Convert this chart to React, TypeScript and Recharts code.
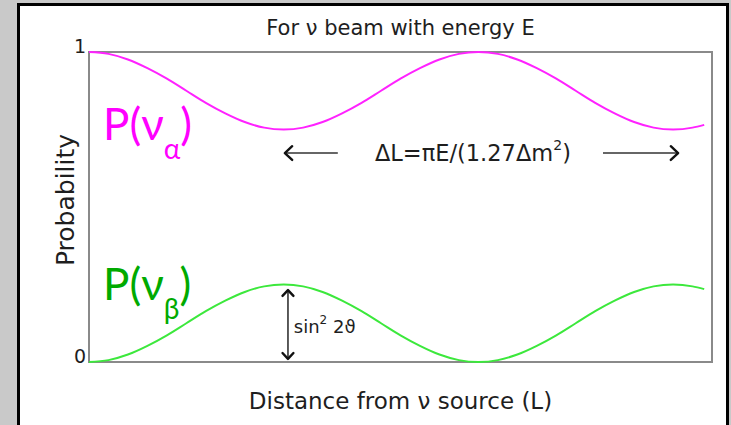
import React from "react";
import {
  LineChart,
  Line,
  XAxis,
  YAxis,
  ReferenceArea,
  ReferenceLine,
  ReferenceDot,
} from "recharts";

// Distance along the beam line (arbitrary units, one oscillation every 10)
const distance = [
  0, 0.5, 1, 1.5, 2, 2.5, 3, 3.5, 4, 4.5, 5, 5.5, 6, 6.5, 7, 7.5, 8, 8.5, 9,
  9.5, 10, 10.5, 11, 11.5, 12, 12.5, 13, 13.5, 14, 14.5, 15, 15.5, 15.8,
];

// Survival probability of the original flavour
const pAlpha = [
  1, 0.994, 0.976, 0.948, 0.914, 0.875, 0.836, 0.802, 0.774, 0.756, 0.75,
  0.756, 0.774, 0.802, 0.836, 0.875, 0.914, 0.948, 0.976, 0.994, 1, 0.994,
  0.976, 0.948, 0.914, 0.875, 0.836, 0.802, 0.774, 0.756, 0.75, 0.756, 0.765,
];

// Appearance probability of the other flavour
const pBeta = [
  0, 0.006, 0.024, 0.052, 0.086, 0.125, 0.164, 0.198, 0.226, 0.244, 0.25,
  0.244, 0.226, 0.198, 0.164, 0.125, 0.086, 0.052, 0.024, 0.006, 0, 0.006,
  0.024, 0.052, 0.086, 0.125, 0.164, 0.198, 0.226, 0.244, 0.25, 0.244, 0.235,
];

const yTicks = [0, 1];

const data = distance.map((d, i) => ({ d, alpha: pAlpha[i], beta: pBeta[i] }));

const TEXT = "#1e1e1e";
const FONT = "'DejaVu Sans', sans-serif";
const LABEL_FONT = "Lato, 'Open Sans', sans-serif";

type Heads = { start?: boolean; end?: boolean };

// Straight line with open chevron heads at either end
const arrowShape = (heads: Heads, size = 10) => (p: any) => {
  const { x1, y1, x2, y2 } = p;
  const ang = Math.atan2(y2 - y1, x2 - x1);
  const head = (x: number, y: number, a: number) => {
    const l1x = x - size * Math.cos(a - 0.75);
    const l1y = y - size * Math.sin(a - 0.75);
    const l2x = x - size * Math.cos(a + 0.75);
    const l2y = y - size * Math.sin(a + 0.75);
    return `M${l1x},${l1y} L${x},${y} L${l2x},${l2y}`;
  };
  return (
    <g>
      <line x1={x1} y1={y1} x2={x2} y2={y2} stroke="#333" strokeWidth={1.6} />
      {heads.end && (
        <path
          d={head(x2, y2, ang)}
          stroke="#111"
          strokeWidth={2.4}
          strokeLinecap="round"
          strokeLinejoin="round"
          fill="none"
        />
      )}
      {heads.start && (
        <path
          d={head(x1, y1, ang + Math.PI)}
          stroke="#111"
          strokeWidth={2.4}
          strokeLinecap="round"
          strokeLinejoin="round"
          fill="none"
        />
      )}
    </g>
  );
};

const flavourLabel = (color: string, sub: string) => (p: any) => (
  <text x={p.cx} y={p.cy} fill={color} fontFamily={LABEL_FONT} fontSize={44}>
    <tspan>P(ν</tspan>
    <tspan dy={19} fontSize={28}>
      {sub}
    </tspan>
    <tspan dy={-19}>)</tspan>
  </text>
);

const centeredText = (value: React.ReactNode, size: number, anchor = "middle") => (p: any) => (
  <text
    x={p.cx}
    y={p.cy}
    fill={TEXT}
    fontFamily={FONT}
    fontSize={size}
    textAnchor={anchor}
    dominantBaseline="central"
  >
    {value}
  </text>
);

const YTick = (p: any) => (
  <text x={86} y={p.y + 1} textAnchor="end" fill={TEXT} fontFamily={FONT} fontSize={19}>
    {p.payload.value}
  </text>
);

export default function App() {
  return (
    <div
      style={{
        position: "absolute",
        left: 0,
        top: 0,
        width: 731,
        height: 425,
        overflow: "hidden",
        background: "#c9c9c9",
      }}
    >
      <div
        style={{
          position: "absolute",
          left: 17,
          top: 3,
          width: 712,
          height: 440,
          boxSizing: "border-box",
          border: "3px solid #000",
          background: "#fff",
        }}
      />
      <div
        style={{
          position: "absolute",
          left: 89,
          width: 623,
          top: 16,
          textAlign: "center",
          fontFamily: FONT,
          fontSize: 21,
          color: TEXT,
          lineHeight: "24px",
        }}
      >
        For ν beam with energy E
      </div>
      <div
        style={{
          position: "absolute",
          left: 89,
          width: 623,
          top: 388,
          textAlign: "center",
          fontFamily: FONT,
          fontSize: 23,
          color: TEXT,
          lineHeight: "27px",
        }}
      >
        Distance from ν source (L)
      </div>
      <div
        style={{
          position: "absolute",
          left: 65,
          top: 200,
          transform: "translate(-50%, -50%) rotate(-90deg)",
          fontFamily: FONT,
          fontSize: 25,
          color: TEXT,
          whiteSpace: "nowrap",
        }}
      >
        Probability
      </div>
      <div style={{ position: "absolute", left: 0, top: 0 }}>
        <LineChart
          width={731}
          height={425}
          data={data}
          margin={{ top: 52, right: 19, bottom: 63, left: 79 }}
        >
          <XAxis dataKey="d" type="number" domain={[0, 16]} hide />
          <YAxis
            type="number"
            domain={[0, 1]}
            ticks={yTicks}
            width={10}
            axisLine={false}
            tickLine={false}
            tick={<YTick />}
          />
          <ReferenceArea
            x1={0}
            x2={16}
            y1={0}
            y2={1}
            fill="none"
            stroke="#8a8a8a"
            strokeWidth={2}
          />
          <Line
            dataKey="alpha"
            type="monotone"
            stroke="#ff22ff"
            strokeWidth={2}
            dot={false}
            isAnimationActive={false}
          />
          <Line
            dataKey="beta"
            type="monotone"
            stroke="#3ce83c"
            strokeWidth={2}
            dot={false}
            isAnimationActive={false}
          />
          <ReferenceLine
            segment={[
              { x: 5.03, y: 0.674 },
              { x: 6.39, y: 0.674 },
            ]}
            shape={arrowShape({ start: true })}
          />
          <ReferenceLine
            segment={[
              { x: 13.2, y: 0.674 },
              { x: 15.13, y: 0.674 },
            ]}
            shape={arrowShape({ end: true })}
          />
          <ReferenceLine
            segment={[
              { x: 5.11, y: 0.232 },
              { x: 5.11, y: 0.01 },
            ]}
            shape={arrowShape({ start: true, end: true }, 8)}
          />
          <ReferenceDot
            x={9.86}
            y={0.674}
            r={0}
            shape={centeredText(
              <>
                ΔL=πE/(1.27Δm<tspan dy={-8} fontSize={14}>2</tspan>
                <tspan dy={8}>)</tspan>
              </>,
              22.5
            )}
          />
          <ReferenceDot
            x={5.26}
            y={0.116}
            r={0}
            shape={centeredText(
              <>
                sin<tspan dy={-6} fontSize={12}>2</tspan>
                <tspan dy={6}> 2ϑ</tspan>
              </>,
              18,
              "start"
            )}
          />
          <ReferenceDot x={0.36} y={0.716} r={0} shape={flavourLabel("#ff00ff", "α")} />
          <ReferenceDot x={0.36} y={0.2} r={0} shape={flavourLabel("#00aa00", "β")} />
        </LineChart>
      </div>
    </div>
  );
}
